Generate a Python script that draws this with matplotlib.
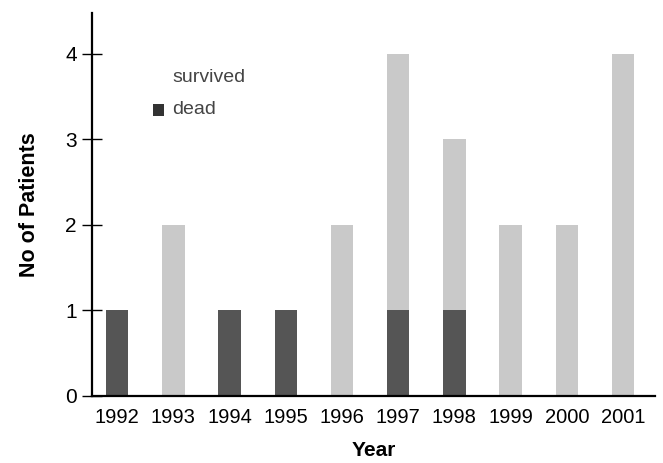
import numpy as np
import matplotlib.pyplot as plt

years = ["1992", "1993", "1994", "1995", "1996", "1997", "1998", "1999", "2000", "2001"]
dead = [1, 0, 1, 1, 0, 1, 1, 0, 0, 0]
survived = [0, 2, 0, 0, 2, 3, 2, 2, 2, 4]

plt.rcParams["font.family"] = ["Liberation Sans", "DejaVu Sans"]

fig = plt.figure(figsize=(6.63, 4.63), dpi=100)
ax = fig.add_axes([0.139, 0.145, 0.849, 0.827])

x = np.arange(len(years))
dark = "#555555"
light = "#c9c9c9"
ax.bar(x, dead, width=0.4, color=dark, label="dead")
ax.bar(x, survived, width=0.4, bottom=dead, color=light, label="survived")

ax.set_xlim(-0.445, 9.57)
ax.set_ylim(0, 4.48)
ax.set_yticks([0, 1, 2, 3, 4])
ax.set_xticks(x)
ax.set_xticklabels(years)

for s in ["top", "right"]:
    ax.spines[s].set_visible(False)
ax.spines["left"].set_linewidth(1.6)
ax.spines["bottom"].set_linewidth(1.6)
ax.tick_params(axis="y", direction="inout", length=14, width=1.0, labelsize=15, pad=4)
ax.tick_params(axis="x", length=0, labelsize=14.5, pad=9)

ax.set_ylabel("No of Patients", fontsize=15.5, fontweight="bold", labelpad=18)
ax.set_xlabel("Year", fontsize=15, fontweight="bold", labelpad=10)

# legend: survived patch barely visible in the scan
ax.text(0.98, 3.72, "survived", fontsize=14, color="#444444", va="center")
ax.bar(0.74, 0.14, width=0.2, bottom=3.28, color="#333333")
ax.text(0.98, 3.345, "dead", fontsize=14, color="#444444", va="center")

fig.savefig("out.png", dpi=100)
